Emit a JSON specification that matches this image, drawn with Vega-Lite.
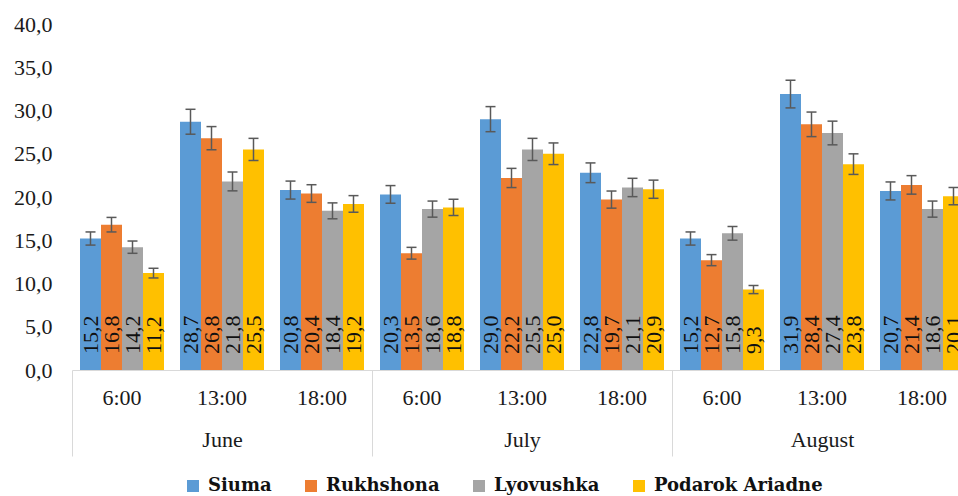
{
  "$schema": "https://vega.github.io/schema/vega-lite/v6.json",
  "width": 900,
  "height": 346,
  "autosize": {"type": "none"},
  "padding": {"left": 72, "top": 24, "right": 0, "bottom": 126},
  "config": {
    "view": {"stroke": null},
    "font": "Liberation Serif",
    "axis": {"labelFont": "Liberation Serif", "labelColor": "#1a1a1a", "labelFontSize": 22, "title": null, "grid": false},
    "legend": {"labelFont": "DejaVu Serif", "labelFontWeight": "bold", "labelFontSize": 18, "labelLimit": 400}
  },
  "data": {
    "values": [
      {"month": "June", "slot": "June|6:00", "variety": "Siuma", "value": 15.2, "lo": 14.44, "hi": 15.96},
      {"month": "June", "slot": "June|6:00", "variety": "Rukhshona", "value": 16.8, "lo": 15.96, "hi": 17.64},
      {"month": "June", "slot": "June|6:00", "variety": "Lyovushka", "value": 14.2, "lo": 13.49, "hi": 14.91},
      {"month": "June", "slot": "June|6:00", "variety": "Podarok Ariadne", "value": 11.2, "lo": 10.64, "hi": 11.76},
      {"month": "June", "slot": "June|13:00", "variety": "Siuma", "value": 28.7, "lo": 27.26, "hi": 30.14},
      {"month": "June", "slot": "June|13:00", "variety": "Rukhshona", "value": 26.8, "lo": 25.46, "hi": 28.14},
      {"month": "June", "slot": "June|13:00", "variety": "Lyovushka", "value": 21.8, "lo": 20.71, "hi": 22.89},
      {"month": "June", "slot": "June|13:00", "variety": "Podarok Ariadne", "value": 25.5, "lo": 24.22, "hi": 26.78},
      {"month": "June", "slot": "June|18:00", "variety": "Siuma", "value": 20.8, "lo": 19.76, "hi": 21.84},
      {"month": "June", "slot": "June|18:00", "variety": "Rukhshona", "value": 20.4, "lo": 19.38, "hi": 21.42},
      {"month": "June", "slot": "June|18:00", "variety": "Lyovushka", "value": 18.4, "lo": 17.48, "hi": 19.32},
      {"month": "June", "slot": "June|18:00", "variety": "Podarok Ariadne", "value": 19.2, "lo": 18.24, "hi": 20.16},
      {"month": "July", "slot": "July|6:00", "variety": "Siuma", "value": 20.3, "lo": 19.28, "hi": 21.32},
      {"month": "July", "slot": "July|6:00", "variety": "Rukhshona", "value": 13.5, "lo": 12.82, "hi": 14.18},
      {"month": "July", "slot": "July|6:00", "variety": "Lyovushka", "value": 18.6, "lo": 17.67, "hi": 19.53},
      {"month": "July", "slot": "July|6:00", "variety": "Podarok Ariadne", "value": 18.8, "lo": 17.86, "hi": 19.74},
      {"month": "July", "slot": "July|13:00", "variety": "Siuma", "value": 29.0, "lo": 27.55, "hi": 30.45},
      {"month": "July", "slot": "July|13:00", "variety": "Rukhshona", "value": 22.2, "lo": 21.09, "hi": 23.31},
      {"month": "July", "slot": "July|13:00", "variety": "Lyovushka", "value": 25.5, "lo": 24.22, "hi": 26.78},
      {"month": "July", "slot": "July|13:00", "variety": "Podarok Ariadne", "value": 25.0, "lo": 23.75, "hi": 26.25},
      {"month": "July", "slot": "July|18:00", "variety": "Siuma", "value": 22.8, "lo": 21.66, "hi": 23.94},
      {"month": "July", "slot": "July|18:00", "variety": "Rukhshona", "value": 19.7, "lo": 18.71, "hi": 20.69},
      {"month": "July", "slot": "July|18:00", "variety": "Lyovushka", "value": 21.1, "lo": 20.04, "hi": 22.16},
      {"month": "July", "slot": "July|18:00", "variety": "Podarok Ariadne", "value": 20.9, "lo": 19.85, "hi": 21.95},
      {"month": "August", "slot": "August|6:00", "variety": "Siuma", "value": 15.2, "lo": 14.44, "hi": 15.96},
      {"month": "August", "slot": "August|6:00", "variety": "Rukhshona", "value": 12.7, "lo": 12.06, "hi": 13.34},
      {"month": "August", "slot": "August|6:00", "variety": "Lyovushka", "value": 15.8, "lo": 15.01, "hi": 16.59},
      {"month": "August", "slot": "August|6:00", "variety": "Podarok Ariadne", "value": 9.3, "lo": 8.83, "hi": 9.77},
      {"month": "August", "slot": "August|13:00", "variety": "Siuma", "value": 31.9, "lo": 30.3, "hi": 33.5},
      {"month": "August", "slot": "August|13:00", "variety": "Rukhshona", "value": 28.4, "lo": 26.98, "hi": 29.82},
      {"month": "August", "slot": "August|13:00", "variety": "Lyovushka", "value": 27.4, "lo": 26.03, "hi": 28.77},
      {"month": "August", "slot": "August|13:00", "variety": "Podarok Ariadne", "value": 23.8, "lo": 22.61, "hi": 24.99},
      {"month": "August", "slot": "August|18:00", "variety": "Siuma", "value": 20.7, "lo": 19.66, "hi": 21.74},
      {"month": "August", "slot": "August|18:00", "variety": "Rukhshona", "value": 21.4, "lo": 20.33, "hi": 22.47},
      {"month": "August", "slot": "August|18:00", "variety": "Lyovushka", "value": 18.6, "lo": 17.67, "hi": 19.53},
      {"month": "August", "slot": "August|18:00", "variety": "Podarok Ariadne", "value": 20.1, "lo": 19.1, "hi": 21.1}
    ]
  },
  "layer": [
    {
      "encoding": {
        "x": {
          "field": "slot", "type": "nominal", "sort": null,
          "scale": {"paddingInner": 0.16, "paddingOuter": 0.08},
          "axis": {"orient": "bottom", "domain": false, "ticks": false, "labelAngle": 0, "labelPadding": 17, "labelExpr": "split(datum.label,'|')[1]"}
        },
        "xOffset": {"field": "variety", "type": "nominal", "sort": ["Siuma", "Rukhshona", "Lyovushka", "Podarok Ariadne"], "scale": {"paddingInner": 0, "paddingOuter": 0}}
      },
      "layer": [
        {
          "mark": {"type": "bar"},
          "encoding": {
            "y": {
              "field": "value", "type": "quantitative",
              "scale": {"domain": [0, 40], "nice": false},
              "axis": {"domain": false, "ticks": false, "grid": false, "values": [0, 5, 10, 15, 20, 25, 30, 35, 40], "labelPadding": 20, "labelExpr": "replace(format(datum.value,'.1f'),'.',',')"}
            },
            "color": {
              "field": "variety", "type": "nominal",
              "sort": ["Siuma", "Rukhshona", "Lyovushka", "Podarok Ariadne"],
              "scale": {"domain": ["Siuma", "Rukhshona", "Lyovushka", "Podarok Ariadne"], "range": ["#5B9BD5", "#ED7D31", "#A5A5A5", "#FFC000"]},
              "legend": {
                "title": null, "orient": "none", "legendX": 112, "legendY": 453, "direction": "horizontal",
                "symbolType": "square", "symbolSize": 144, "symbolStrokeWidth": 0,
                "labelFont": "DejaVu Serif", "labelFontSize": 18, "labelFontWeight": "bold", "labelColor": "#111", "labelLimit": 400,
                "columnPadding": 30, "labelOffset": 6
              }
            }
          }
        },
        {
          "mark": {"type": "rule", "color": "#595959", "strokeWidth": 1.5},
          "encoding": {"y": {"field": "lo", "type": "quantitative"}, "y2": {"field": "hi"}}
        },
        {
          "mark": {"type": "tick", "orient": "horizontal", "size": 10, "thickness": 1.5, "color": "#595959", "opacity": 1},
          "encoding": {"y": {"field": "lo", "type": "quantitative"}}
        },
        {
          "mark": {"type": "tick", "orient": "horizontal", "size": 10, "thickness": 1.5, "color": "#595959", "opacity": 1},
          "encoding": {"y": {"field": "hi", "type": "quantitative"}}
        },
        {
          "mark": {"type": "text", "angle": 270, "align": "left", "baseline": "middle", "dx": 16, "font": "Liberation Serif", "fontSize": 22, "color": "#111", "text": {"expr": "replace(format(datum.value,'.1f'),'.',',')"}},
          "encoding": {"y": {"datum": 0, "type": "quantitative"}}
        }
      ]
    },
    {
      "mark": {"type": "rule", "opacity": 0},
      "encoding": {
        "x": {
          "field": "month", "type": "nominal", "sort": null,
          "scale": {"paddingInner": 0, "paddingOuter": 0},
          "axis": {"orient": "bottom", "domain": true, "domainColor": "#d9d9d9", "ticks": true, "tickBand": "extent", "tickSize": 86, "tickColor": "#d9d9d9", "labelAngle": 0, "labelPadding": -27}
        }
      }
    }
  ],
  "resolve": {"scale": {"x": "independent"}}
}
